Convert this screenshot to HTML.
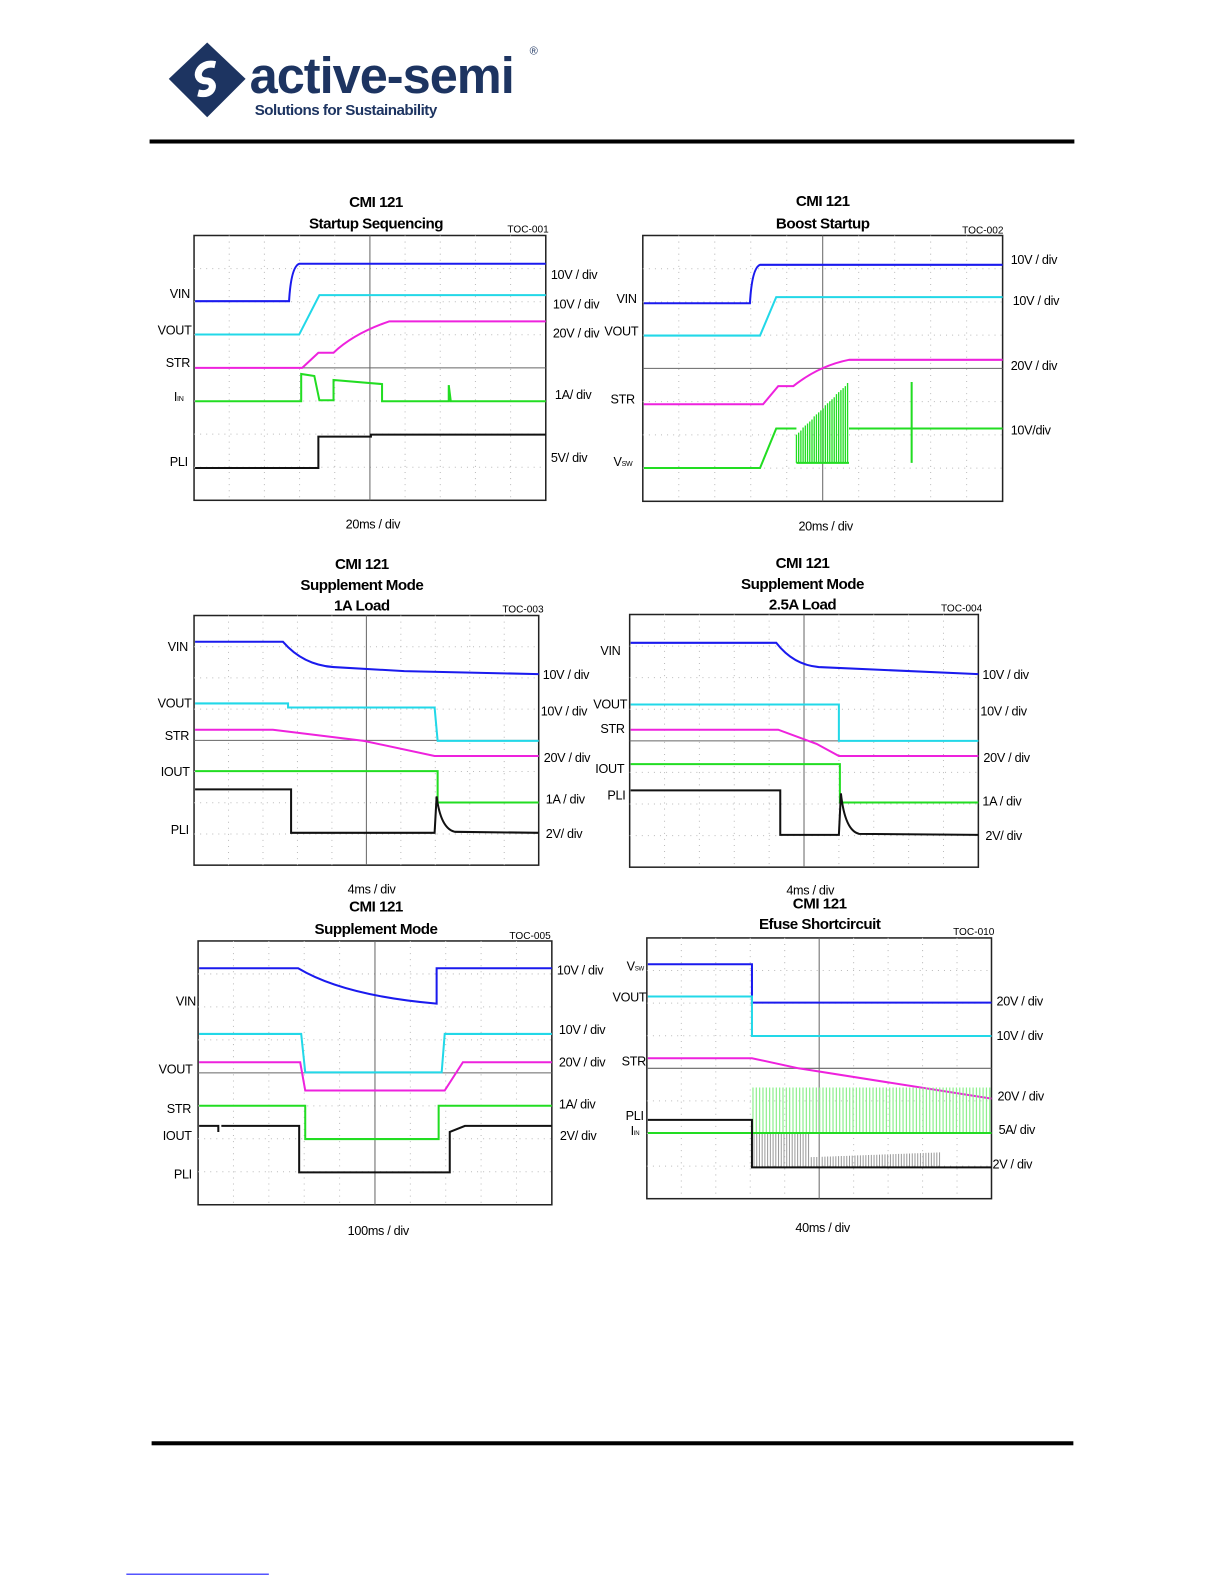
<!DOCTYPE html>
<html><head><meta charset="utf-8"><style>
html,body{margin:0;padding:0;background:#fff;width:1225px;height:1585px;overflow:hidden}
svg{display:block;position:absolute;left:0;top:0}
text{font-family:"Liberation Sans",sans-serif}
.t{font-weight:bold;font-size:15px;text-anchor:middle;letter-spacing:-0.5px}
.l{font-size:12.5px;letter-spacing:-0.3px}
.s{font-size:10px}
</style></head><body>
<svg id="s" width="1225" height="1585" viewBox="0 0 1225 1585" xmlns="http://www.w3.org/2000/svg">
<g transform="scale(1.0107)">
<g>
<polygon points="205,42 243,78 205,116 167,78" fill="#1d3461"/>
<path d="M213,64 C196,60 190,80 204,80 C214,80 212,96 196,92" stroke="#fff" stroke-width="7" fill="none"/>
<text x="247" y="92" font-size="50" font-weight="bold" fill="#1d3461" letter-spacing="-1">active-semi</text>
<text x="524" y="54" font-size="11" fill="#1d3461">®</text>
<text x="252" y="114" font-size="15" font-weight="bold" fill="#1d3461" letter-spacing="-0.5">Solutions for Sustainability</text>
</g>
<rect x="148" y="138" width="915" height="4" fill="#000"/>
<rect x="150" y="1426" width="912" height="4" fill="#000"/>
<rect x="125" y="1557" width="141" height="1" fill="#00f"/>
<g id="charts"></g>

<text class="t" x="372" y="205">CMI  121</text><text class="t" x="372" y="226">Startup Sequencing</text>
<text class="s" x="502" y="230">TOC-001</text>
<text class="l" x="168" y="295">VIN</text><text class="l" x="156" y="331">VOUT</text><text class="l" x="164" y="363">STR</text><text class="l" x="172" y="397">I<tspan font-size="7">IN</tspan></text><text class="l" x="168" y="461">PLI</text>
<text class="l" x="545" y="276">10V / div</text><text class="l" x="547" y="305">10V / div</text><text class="l" x="547" y="334">20V / div</text><text class="l" x="549" y="395">1A/ div</text><text class="l" x="545" y="457">5V/ div</text>
<text class="l" x="342" y="523">20ms / div</text>

<text class="t" x="814" y="204">CMI  121</text><text class="t" x="814" y="226">Boost Startup</text>
<text class="s" x="952" y="231">TOC-002</text>
<text class="l" x="610" y="300">VIN</text><text class="l" x="598" y="332">VOUT</text><text class="l" x="604" y="399">STR</text><text class="l" x="607" y="461">V<tspan font-size="7">SW</tspan></text>
<text class="l" x="1000" y="261">10V / div</text><text class="l" x="1002" y="302">10V / div</text><text class="l" x="1000" y="366">20V / div</text><text class="l" x="1000" y="430">10V/div</text>
<text class="l" x="790" y="525">20ms / div</text>

<text class="t" x="358" y="563">CMI  121</text><text class="t" x="358" y="584">Supplement Mode</text><text class="t" x="358" y="604">1A Load</text>
<text class="s" x="497" y="606">TOC-003</text>
<text class="l" x="166" y="644">VIN</text><text class="l" x="156" y="700">VOUT</text><text class="l" x="163" y="732">STR</text><text class="l" x="159" y="768">IOUT</text><text class="l" x="169" y="825">PLI</text>
<text class="l" x="537" y="672">10V / div</text><text class="l" x="535" y="708">10V / div</text><text class="l" x="538" y="754">20V / div</text><text class="l" x="540" y="795">1A / div</text><text class="l" x="540" y="829">2V/ div</text>
<text class="l" x="344" y="884" font-size="11">4ms / div</text>

<text class="t" x="794" y="562">CMI  121</text><text class="t" x="794" y="583">Supplement Mode</text><text class="t" x="794" y="603">2.5A Load</text>
<text class="s" x="931" y="605">TOC-004</text>
<text class="l" x="594" y="648">VIN</text><text class="l" x="587" y="701">VOUT</text><text class="l" x="594" y="725">STR</text><text class="l" x="589" y="765">IOUT</text><text class="l" x="601" y="791">PLI</text>
<text class="l" x="972" y="672">10V / div</text><text class="l" x="970" y="708">10V / div</text><text class="l" x="973" y="754">20V / div</text><text class="l" x="972" y="797">1A / div</text><text class="l" x="975" y="831">2V/ div</text>
<text class="l" x="778" y="885" font-size="11">4ms / div</text>

<text class="t" x="372" y="902">CMI  121</text><text class="t" x="372" y="924">Supplement Mode</text>
<text class="s" x="504" y="929">TOC-005</text>
<text class="l" x="174" y="995">VIN</text><text class="l" x="157" y="1062">VOUT</text><text class="l" x="165" y="1101">STR</text><text class="l" x="161" y="1128">IOUT</text><text class="l" x="172" y="1166">PLI</text>
<text class="l" x="551" y="964">10V / div</text><text class="l" x="553" y="1023">10V / div</text><text class="l" x="553" y="1055">20V / div</text><text class="l" x="553" y="1097">1A/ div</text><text class="l" x="554" y="1128">2V/ div</text>
<text class="l" x="344" y="1222">100ms / div</text>

<text class="t" x="811" y="899">CMI  121</text><text class="t" x="811" y="919">Efuse Shortcircuit</text>
<text class="s" x="943" y="925">TOC-010</text>
<text class="l" x="620" y="960">V<tspan font-size="6">SW</tspan></text><text class="l" x="606" y="991">VOUT</text><text class="l" x="615" y="1054">STR</text><text class="l" x="619" y="1108">PLI</text><text class="l" x="624" y="1123">I<tspan font-size="6">IN</tspan></text>
<text class="l" x="986" y="995">20V / div</text><text class="l" x="986" y="1029">10V / div</text><text class="l" x="987" y="1089">20V / div</text><text class="l" x="988" y="1122">5A/ div</text><text class="l" x="982" y="1156">2V / div</text>
<text class="l" x="787" y="1219">40ms / div</text>
</g>
</svg>
<script>
var NS="http://www.w3.org/2000/svg",G=document.getElementById("charts");
function el(t,a){var e=document.createElementNS(NS,t);for(var k in a)e.setAttribute(k,a[k]);G.appendChild(e);return e;}
function grid(x0,y0,x1,y1){
 el("rect",{x:x0,y:y0,width:x1-x0,height:y1-y0,fill:"#fff",stroke:"#222","stroke-width":1.5});
 var w=(x1-x0)/10,h=(y1-y0)/8;
 for(var i=1;i<10;i++){if(i!=5)el("line",{x1:x0+i*w,y1:y0,x2:x0+i*w,y2:y1,stroke:"#bbb","stroke-dasharray":"1,5"});}
 for(var j=1;j<8;j++){if(j!=4)el("line",{x1:x0,y1:y0+j*h,x2:x1,y2:y0+j*h,stroke:"#bbb","stroke-dasharray":"1,5"});}
 el("line",{x1:(x0+x1)/2,y1:y0,x2:(x0+x1)/2,y2:y1,stroke:"#666"});
 el("line",{x1:x0,y1:(y0+y1)/2,x2:x1,y2:(y0+y1)/2,stroke:"#666"});
}
function p(d,c,w){el("path",{d:d,stroke:c,"stroke-width":w||2,fill:"none"});}
var B="#1a1aee",C="#22d8e8",M="#ee22dd",Gr="#22dd22",K="#111";
grid(192,233,540,495);
p("M193,298H286Q288,264 296,261H540",B);
p("M193,331H296L316,292H540",C);
p("M193,364H299L315,349H330Q350,330 385,318H540",M);
p("M193,397H298V370L311,372L316,396H330V376L378,380V397H444V381L446,397H540",Gr);
p("M193,463H315V432H367V430H540",K);
grid(636,233,992,496);
p("M637,300H742Q744,265 752,262H992",B);
p("M637,332H752L768,294H992",C);
p("M637,400H755L770,382H785Q810,362 840,356H992",M);
p("M637,463H752L768,424H788",Gr);
(function(){var d="";for(var x=788;x<=840;x+=2.2){var top=430-(x-788)*1.0;d+="M"+x.toFixed(1)+",458V"+top.toFixed(0);}p(d,"#22dd22",1.3);})();
p("M788,458H840M840,424H992M902,378V458",Gr);
grid(192,609,533,856);
p("M193,635H280Q300,658 330,660L400,664L533,667",B);
p("M193,696H285V700H430L433,733H533",C);
p("M193,722H270L360,733L430,748H533",M);
p("M193,763H433V794H533",Gr);
p("M193,781H288V824H430L432,788Q436,820 450,823L533,824",K);
grid(623,608,968,858);
p("M624,636H768Q785,658 810,660L968,667",B);
p("M624,697H830V733H968",C);
p("M624,722H770L808,736L830,748H968",M);
p("M624,756H831V794H968",Gr);
p("M624,782H772V826H830L832,785Q836,822 850,825L968,826",K);
grid(196,931,546,1192);
p("M197,958H295Q340,985 432,993V958H546",B);
p("M197,1023H298L302,1061H437L440,1023H546",C);
p("M197,1051H297L302,1079H440L458,1051H546",M);
p("M197,1094H302V1127H434V1094H546",Gr);
p("M197,1114H216V1120M219,1114H296V1160H445V1120L460,1114H546",K);
grid(640,928,981,1186);
p("M641,954H744V992H981",B);
p("M641,986H744V1025H981",C);
p("M641,1047H744L790,1057L981,1087",M);
(function(){var d="";for(var x=745;x<=980;x+=3.3){d+="M"+x.toFixed(1)+",1121V1076";}p(d,"#8ef08e",1.2);
 var e="";for(var x=746;x<=930;x+=2.7){var t=1120+((x*37)%25);e+="M"+x.toFixed(1)+",1155V"+t;}p(e,"#999",1);})();
p("M641,1121H981",Gr);
p("M641,1108H744V1155H981",K);
</script>
</body></html>
